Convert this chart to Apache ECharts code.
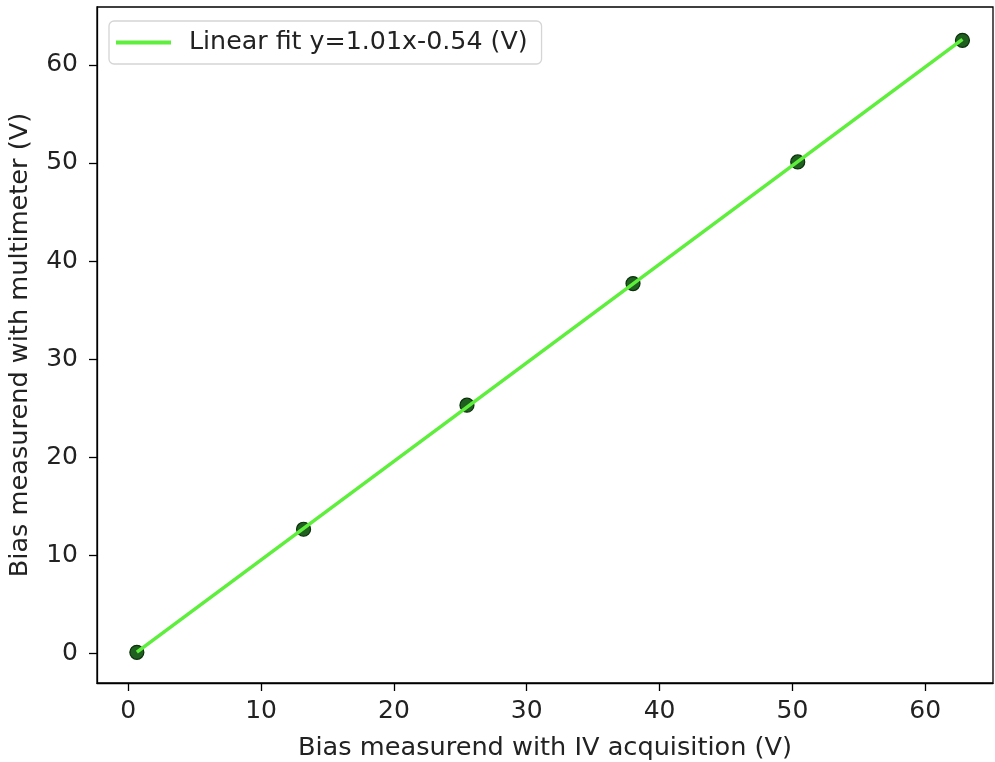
<!DOCTYPE html>
<html>
<head>
<meta charset="utf-8">
<title>Bias calibration</title>
<script src="https://cdn.jsdelivr.net/npm/echarts@6/dist/echarts.min.js"></script>
<style>
  html, body { margin: 0; padding: 0; background: #fff; }
  #chart { width: 995px; height: 762px; }
</style>
</head>
<body>
<div id="chart"></div>
<script>
// measured points (V)
const ivBias = [0.65, 13.2, 25.5, 38.0, 50.4, 62.8];
const meterBias = [0.1, 12.65, 25.3, 37.7, 50.1, 62.5];
// fitted line ends
const fitX = [0.65, 62.8];
const fitY = [0.12, 62.6];
const xTicks = [0, 10, 20, 30, 40, 50, 60];
const yTicks = [0, 10, 20, 30, 40, 50, 60];

const font = 'DejaVu Sans';
const fitName = 'Linear fit y=1.01x-0.54 (V)';
const chart = echarts.init(document.getElementById('chart'));

chart.setOption({
  animation: false,
  backgroundColor: '#fff',
  textStyle: { fontFamily: font },
  grid: {
    left: 97, right: 2, top: 7, bottom: 79,
    outerBoundsMode: 'none',
    show: true, borderColor: '#000', borderWidth: 1.3
  },
  legend: {
    left: 109, top: 21,
    padding: [9, 14, 9, 7],
    backgroundColor: 'rgba(255,255,255,0.8)',
    borderColor: '#d5d5d5', borderWidth: 1.3, borderRadius: 5,
    itemWidth: 55, itemHeight: 4,
    textStyle: { fontSize: 25.3, color: '#222', fontFamily: font, padding: [0, 0, 0, 13] },
    data: [{ name: fitName, icon: 'rect' }]
  },
  xAxis: {
    type: 'value',
    min: -2.35, max: 65.1,
    name: 'Bias measurend with IV acquisition (V)',
    nameLocation: 'middle', nameGap: 52,
    nameTextStyle: { fontSize: 25.6, color: '#222', fontFamily: font },
    axisLine: { show: true, onZero: false, lineStyle: { color: '#000', width: 1.3 } },
    axisTick: { show: true, length: 8, lineStyle: { color: '#000', width: 1.3 }, customValues: xTicks },
    axisLabel: { fontSize: 25, color: '#222', margin: 16, fontFamily: font, customValues: xTicks },
    splitLine: { show: false }
  },
  yAxis: {
    type: 'value',
    min: -3.03, max: 65.9,
    name: 'Bias measurend with multimeter (V)',
    nameLocation: 'middle', nameGap: 64, nameRotate: 90,
    nameTextStyle: { fontSize: 25.6, color: '#222', fontFamily: font },
    axisLine: { show: true, onZero: false, lineStyle: { color: '#000', width: 1.3 } },
    axisTick: { show: true, length: 8, lineStyle: { color: '#000', width: 1.3 }, customValues: yTicks },
    axisLabel: { fontSize: 25, color: '#222', margin: 19, fontFamily: font, customValues: yTicks },
    splitLine: { show: false }
  },
  series: [
    {
      name: 'points',
      type: 'scatter',
      symbolSize: 14,
      itemStyle: { color: '#1f5f1f', borderColor: '#0a300a', borderWidth: 1.2, opacity: 1 },
      data: ivBias.map((x, i) => [x, meterBias[i]]),
      z: 2
    },
    {
      name: fitName,
      type: 'line',
      symbol: 'none',
      lineStyle: { color: '#5eee3c', width: 3.5 },
      itemStyle: { color: '#5eee3c' },
      data: fitX.map((x, i) => [x, fitY[i]]),
      z: 3
    }
  ]
});
</script>
</body>
</html>
